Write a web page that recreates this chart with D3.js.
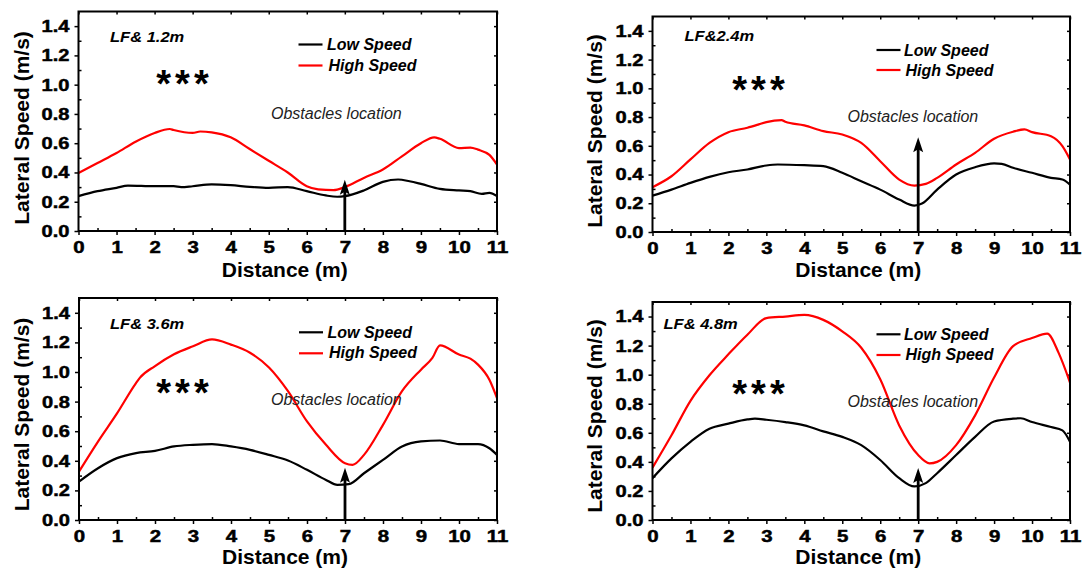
<!DOCTYPE html>
<html>
<head>
<meta charset="utf-8">
<script src="https://cdn.jsdelivr.net/npm/d3@7"></script>
<style>
  body { margin: 0; background: #fff; }
  svg { display: block; }
  text { font-family: "Liberation Sans", Arial, Helvetica, sans-serif; }
</style>
</head>
<body>
<svg id="chart" width="1085" height="569"></svg>
<script>
// ---- data -------------------------------------------------------------
const distanceTicks = [0, 1, 2, 3, 4, 5, 6, 7, 8, 9, 10, 11];
const speedTicks = [0, 0.2, 0.4, 0.6, 0.8, 1.0, 1.2, 1.4];
const panelLabels = ["LF& 1.2m", "LF&2.4m", "LF& 3.6m", "LF& 4.8m"];
const seriesNames = ["Low Speed", "High Speed"];
const seriesColors = ["#000000", "#ff0000"];
const obstacleDistance = 7;
const obstacleArrowTop = [0.35, 0.66, 0.353, 0.357];

// [distance (m), lateral speed (m/s)]
const low12 = [[0,0.238],[0.5,0.272],[1,0.295],[1.3,0.31],[2,0.306],[2.5,0.306],[2.7,0.30],[3,0.306],
  [3.5,0.318],[4,0.313],[4.5,0.302],[5,0.295],[5.5,0.30],[6,0.272],[6.5,0.243],[6.8,0.234],[7,0.238],
  [7.5,0.277],[8,0.336],[8.4,0.352],[8.7,0.34],[9,0.322],[9.5,0.288],[10,0.277],[10.3,0.272],
  [10.6,0.254],[10.8,0.261],[11,0.238]];
const high12 = [[0,0.397],[0.5,0.465],[1,0.533],[1.5,0.61],[2,0.67],[2.4,0.697],[2.5,0.69],[3,0.67],
  [3.2,0.68],[3.5,0.674],[4,0.64],[4.5,0.56],[5,0.48],[5.5,0.40],[6,0.306],[6.3,0.284],[6.7,0.279],
  [7,0.30],[7.5,0.363],[8,0.42],[8.5,0.51],[9,0.60],[9.35,0.64],[9.5,0.63],[10,0.567],[10.3,0.57],
  [10.5,0.556],[10.8,0.52],[11,0.454]];

const low24 = [[0,0.253],[0.5,0.295],[1,0.342],[1.5,0.384],[2,0.416],[2.5,0.435],[3,0.463],[3.3,0.47],
  [4,0.465],[4.5,0.458],[5,0.412],[5.5,0.353],[6,0.295],[6.5,0.226],[6.9,0.184],[7.1,0.198],[7.5,0.295],
  [8,0.40],[8.5,0.451],[9,0.477],[9.2,0.474],[9.5,0.447],[10,0.412],[10.5,0.377],[10.8,0.365],[11,0.33]];
const high24 = [[0,0.312],[0.5,0.388],[1,0.505],[1.5,0.62],[2,0.695],[2.5,0.726],[2.8,0.749],[3,0.765],
  [3.4,0.779],[3.5,0.767],[4,0.742],[4.5,0.702],[5,0.679],[5.5,0.62],[6,0.493],[6.5,0.365],[6.9,0.323],
  [7.2,0.335],[7.5,0.377],[8,0.47],[8.5,0.551],[9,0.649],[9.5,0.698],[9.8,0.714],[10,0.695],[10.5,0.667],
  [10.8,0.598],[11,0.505]];

const low36 = [[0,0.26],[0.5,0.35],[1,0.418],[1.5,0.452],[2,0.467],[2.5,0.497],[3,0.508],[3.5,0.513],
  [4,0.497],[4.5,0.474],[5,0.44],[5.5,0.402],[6,0.339],[6.5,0.271],[6.8,0.237],[7.1,0.242],[7.5,0.316],
  [8,0.406],[8.5,0.497],[9,0.531],[9.5,0.537],[10,0.513],[10.5,0.513],[10.8,0.485],[11,0.44]];
const high36 = [[0,0.327],[0.5,0.53],[1,0.72],[1.5,0.925],[1.6,0.96],[2,1.04],[2.5,1.12],[3,1.174],
  [3.5,1.22],[4,1.185],[4.5,1.13],[5,1.03],[5.5,0.87],[6,0.666],[6.5,0.508],[7,0.384],[7.2,0.373],
  [7.5,0.44],[8,0.643],[8.5,0.87],[9,1.016],[9.3,1.095],[9.5,1.18],[10,1.118],[10.3,1.09],[10.5,1.05],
  [10.8,0.948],[11,0.824]];

const low48 = [[0,0.288],[0.5,0.424],[1,0.538],[1.5,0.628],[2,0.663],[2.5,0.692],[2.7,0.697],[3,0.69],
  [3.5,0.674],[4,0.651],[4.5,0.61],[5,0.572],[5.5,0.515],[6,0.413],[6.5,0.288],[6.9,0.231],[7.2,0.254],
  [7.5,0.322],[8,0.447],[8.5,0.572],[9,0.678],[9.5,0.697],[9.7,0.70],[10,0.674],[10.5,0.64],[10.8,0.617],
  [11,0.538]];
const high48 = [[0,0.36],[0.5,0.583],[1,0.82],[1.5,0.996],[2,1.14],[2.5,1.275],[3,1.389],[3.5,1.40],
  [4,1.411],[4.5,1.377],[5,1.298],[5.5,1.185],[6,0.969],[6.5,0.651],[7,0.447],[7.3,0.39],[7.5,0.40],
  [8,0.515],[8.5,0.72],[9,0.98],[9.5,1.196],[10,1.252],[10.4,1.282],[10.7,1.15],[11,0.946]];

const panelSeries = [[low12, high12], [low24, high24], [low36, high36], [low48, high48]];

// ---- layout -----------------------------------------------------------
const layout = [
  { x0: 78.5, y0: 11.5, x1: 497,  y1: 231, yTitle: [22, 128],    xTitleY: 277,
    lf: [31.5, 30.5], star: [106, 63.5], leg: { x: 220, rows: [33, 54],   tx: 248.5, base: [38.5, 59.5] }, obs: [192.5, 107] },
  { x0: 652.5, y0: 16.5, x1: 1070, y1: 232, yTitle: [594.5, 131], xTitleY: 277,
    lf: [32, 24.5],   star: [108, 64.5], leg: { x: 224, rows: [33.5, 53.5], tx: 251.5, base: [39, 59] },     obs: [195, 105] },
  { x0: 79,   y0: 298,  x1: 497,  y1: 520, yTitle: [22, 414.5],  xTitleY: 564,
    lf: [31, 31],     star: [105.5, 85.5], leg: { x: 220, rows: [34.3, 55.3], tx: 248.5, base: [39.5, 60] }, obs: [192, 107] },
  { x0: 652.5, y0: 302, x1: 1070, y1: 520, yTitle: [594.5, 416], xTitleY: 564,
    lf: [11, 27],     star: [108, 82.7], leg: { x: 224, rows: [32.3, 53],  tx: 251.5, base: [37.5, 58] },    obs: [195, 104.7] }
];

const svg = d3.select("#chart");

// stretch a text horizontally by factor k
function widen(sel, k) {
  sel.each(function () {
    const w = this.getComputedTextLength();
    this.setAttribute("textLength", w * k);
    this.setAttribute("lengthAdjust", "spacingAndGlyphs");
  });
}

layout.forEach((L, i) => {
  const x = d3.scaleLinear().domain([0, 11]).range([L.x0, L.x1]);
  const y = d3.scaleLinear().domain([0, 1.5]).range([L.y1, L.y0]);
  const g = svg.append("g");

  const clipId = "clip" + i;
  svg.append("clipPath").attr("id", clipId).append("rect")
    .attr("x", L.x0).attr("y", L.y0).attr("width", L.x1 - L.x0).attr("height", L.y1 - L.y0);

  // minor ticks (inward)
  const minorX = d3.range(0.5, 11, 1);
  const minorY = d3.range(0.1, 1.5, 0.2);
  g.append("g").attr("transform", `translate(0,${L.y1})`)
    .call(d3.axisBottom(x).tickValues(minorX).tickSize(-3).tickFormat(""))
    .call(a => a.select(".domain").remove());
  g.append("g").attr("transform", `translate(${L.x0},0)`)
    .call(d3.axisLeft(y).tickValues(minorY).tickSize(-3).tickFormat(""))
    .call(a => a.select(".domain").remove());
  // top / right ticks (inward, unlabelled)
  g.append("g").attr("transform", `translate(0,${L.y0})`)
    .call(d3.axisTop(x).tickValues(distanceTicks).tickSize(-3).tickFormat(""))
    .call(a => a.select(".domain").remove());
  g.append("g").attr("transform", `translate(${L.x1},0)`)
    .call(d3.axisRight(y).tickValues(speedTicks).tickSize(-3).tickFormat(""))
    .call(a => a.select(".domain").remove());

  // major ticks with labels (outward)
  const xAxis = g.append("g").attr("transform", `translate(0,${L.y1})`)
    .call(d3.axisBottom(x).tickValues(distanceTicks).tickSize(4).tickPadding(6).tickSizeOuter(0));
  xAxis.select(".domain").remove();
  const yAxis = g.append("g").attr("transform", `translate(${L.x0},0)`)
    .call(d3.axisLeft(y).tickValues(speedTicks).tickSize(4).tickPadding(5).tickFormat(d3.format(".1f")).tickSizeOuter(0));
  yAxis.select(".domain").remove();

  g.selectAll(".tick line").attr("stroke", "#000").attr("stroke-width", 1.5);
  g.selectAll(".tick text")
    .attr("fill", "#000")
    .attr("stroke", "#000")
    .attr("stroke-width", 0.5)
    .style("font-family", '"Liberation Sans", Arial, sans-serif')
    .style("font-size", "17px")
    .style("font-weight", "bold");
  widen(xAxis.selectAll(".tick text"), 1.2);
  widen(yAxis.selectAll(".tick text"), 1.18);

  // series lines
  const line = d3.line().x(d => x(d[0])).y(d => y(d[1])).curve(d3.curveMonotoneX);
  panelSeries[i].forEach((s, j) => {
    g.append("path").datum(s)
      .attr("clip-path", `url(#${clipId})`)
      .attr("fill", "none")
      .attr("stroke", seriesColors[j])
      .attr("stroke-width", 2.2)
      .attr("stroke-linejoin", "round")
      .attr("d", line);
  });

  // obstacle arrow
  const ax = x(obstacleDistance), aTop = y(obstacleArrowTop[i]);
  g.append("line").attr("x1", ax).attr("x2", ax).attr("y1", L.y1).attr("y2", aTop + 10)
    .attr("stroke", "#000").attr("stroke-width", 2.8);
  g.append("path")
    .attr("d", `M${ax},${aTop} L${ax - 5},${aTop + 15} L${ax},${aTop + 12} L${ax + 5},${aTop + 15} Z`)
    .attr("fill", "#000");

  // frame
  g.append("rect").attr("x", L.x0).attr("y", L.y0)
    .attr("width", L.x1 - L.x0).attr("height", L.y1 - L.y0)
    .attr("fill", "none").attr("stroke", "#000").attr("stroke-width", 2);

  // axis titles
  g.append("text")
    .attr("transform", `translate(${L.yTitle[0]},${L.yTitle[1]}) rotate(-90)`)
    .attr("text-anchor", "middle").attr("dy", "0.35em")
    .style("font-size", "21px").style("font-weight", "bold")
    .text("Lateral Speed (m/s)");
  g.append("text")
    .attr("x", (L.x0 + L.x1) / 2 - 3).attr("y", L.xTitleY)
    .attr("text-anchor", "middle")
    .style("font-size", "21px").style("font-weight", "bold")
    .text("Distance (m)");

  // panel label
  const lf = g.append("text")
    .attr("x", L.x0 + L.lf[0]).attr("y", L.y0 + L.lf[1])
    .style("font-size", "15px").style("font-weight", "bold").style("font-style", "italic")
    .text(panelLabels[i]);
  widen(lf, 1.1);

  // significance marker
  g.append("text")
    .attr("x", L.x0 + L.star[0]).attr("y", L.y0 + L.star[1] + 22)
    .attr("text-anchor", "middle")
    .style("font-size", "38px").style("font-weight", "bold").style("letter-spacing", "4px")
    .text("***");

  // legend
  seriesNames.forEach((name, j) => {
    g.append("line")
      .attr("x1", L.x0 + L.leg.x).attr("x2", L.x0 + L.leg.x + 24)
      .attr("y1", L.y0 + L.leg.rows[j]).attr("y2", L.y0 + L.leg.rows[j])
      .attr("stroke", seriesColors[j]).attr("stroke-width", 2.2);
    g.append("text")
      .attr("x", L.x0 + L.leg.tx + j * 1.5).attr("y", L.y0 + L.leg.base[j])
      .style("font-size", "16px").style("font-weight", "bold").style("font-style", "italic")
      .text(name);
  });

  // obstacle annotation
  g.append("text")
    .attr("x", L.x0 + L.obs[0]).attr("y", L.y0 + L.obs[1])
    .attr("fill", "#222")
    .style("font-size", "16px").style("font-style", "italic")
    .text("Obstacles location");
});
</script>
</body>
</html>
